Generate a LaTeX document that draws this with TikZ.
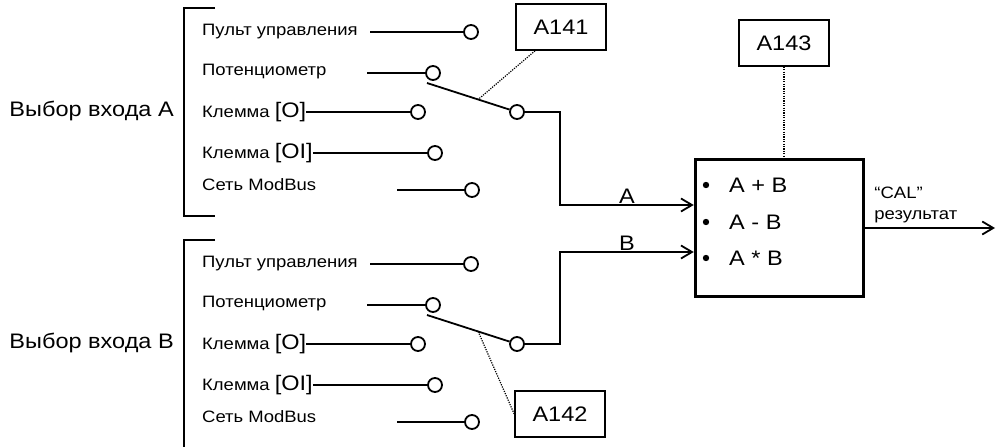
\documentclass[tikz,border=0pt]{standalone}
\usepackage{fontspec}
\setmainfont{Liberation Sans}[FakeStretch=1.12]
\usetikzlibrary{arrows.meta}

\newcommand\bigsz{\fontsize{21}{24}\selectfont}

\tikzset{
  wire/.style={line width=1.8pt},
  term/.style={circle,draw,fill=white,minimum size=14pt,inner sep=0pt,line width=1.8pt},
  lbl/.style={anchor=west,inner sep=0pt,font=\fontsize{16.5}{21}\selectfont},
  big/.style={font=\bigsz},
  parbox/.style={draw,line width=1.6pt,minimum width=90pt,minimum height=46pt,big},
  link/.style={line width=1.2pt,dash pattern=on 1.2pt off 1.2pt},
  sig/.style={wire,-{Straight Barb[length=11pt,width=13pt,line width=1.8pt]}}
}

\begin{document}
\begin{tikzpicture}[x=1pt,y=-1pt]
\useasboundingbox (0,0) rectangle (997,447);

% входы A и B
\foreach \g/\dy in {A/0,B/232}{
  \begin{scope}[shift={(0,\dy)}]
    % скобка
    \draw[wire] (215,8) -- (184,8) -- (184,216) -- (215,216);
    \node[big,anchor=east,inner sep=0pt] (sel\g) at (174,111) {Выбор входа \g};

    % источники
    \node[lbl] (pult\g) at (202,32) {Пульт управления};
    \node[lbl] (pot\g) at (202,72) {Потенциометр};
    \node[lbl] (klo\g) at (202,112) {Клемма {\bigsz[O]}};
    \node[lbl] (kloi\g) at (202,153) {Клемма {\bigsz[OI]}};
    \node[lbl] (mb\g) at (202,185) {Сеть ModBus};

    % клеммы
    \node[term] (tpult\g) at (471,32) {};
    \node[term] (tpot\g) at (433,73) {};
    \node[term] (tklo\g) at (418,112) {};
    \node[term] (tkloi\g) at (435,153) {};
    \node[term] (tmb\g) at (472,190) {};
    \node[term] (out\g) at (517,112) {};

    % линии
    \coordinate (spult\g) at (370,32);
    \coordinate (spot\g) at (367,73);
    \coordinate (smb\g) at (397,190);
    \draw[wire] (spult\g) -- (tpult\g);
    \draw[wire] (spot\g) -- (tpot\g);
    \draw[wire] (klo\g.east) -- (tklo\g);
    \draw[wire] (kloi\g.east) -- (tkloi\g);
    \draw[wire] (smb\g) -- (tmb\g);

    % переключатель
    \coordinate (arm\g) at ([shift={(-6,10)}]tpot\g.center);
    \draw[wire] (arm\g) -- coordinate[pos=0.62] (mid\g) (out\g);
  \end{scope}
}

% параметры
\node[parbox] (p141) at (561,27) {A141};
\node[parbox] (p142) at (560,414) {A142};
\node[parbox] (p143) at (784,43) {A143};

% блок вычисления
\node[draw,line width=3.5pt,minimum width=168pt,minimum height=137pt] (calc) at (779.5,228) {};
\fill (706,185) circle (3.2pt);
\fill (706,222) circle (3.2pt);
\fill (706,258) circle (3.2pt);
\node[big,anchor=west,inner sep=0pt] (op1) at (729,185) {A + B};
\node[big,anchor=west,inner sep=0pt] (op2) at (729,222) {A - B};
\node[big,anchor=west,inner sep=0pt] (op3) at (729,258) {A * B};

% пунктир
\draw[link] ([xshift=-26pt]p141.south) -- (midA);
\draw[link] (midB) -- (p142.west);
\draw[link] (p143.south) -- (p143.south |- calc.north);

% сигналы
\coordinate (inA) at (calc.west |- 0,205);
\coordinate (inB) at (calc.west |- 0,252);
\coordinate (res) at (995,228);
\draw[sig] (outA) -- ++(43,0) |- node[pos=0.75,above,inner sep=1pt,big] {A} (inA);
\draw[sig] (outB) -- ++(43,0) |- node[pos=0.75,above,inner sep=1pt,big] {B} (inB);
\draw[sig] (calc.east) -- (res);
\node[lbl,anchor=south west,align=left] (cal) at ([shift={(9,-5)}]calc.east) {“CAL”\\результат};

\end{tikzpicture}
\end{document}
